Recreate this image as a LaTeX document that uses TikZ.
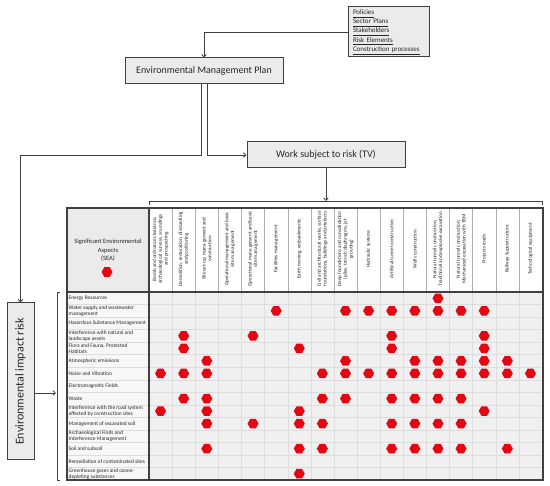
\documentclass[tikz,border=0pt]{standalone}
\usepackage{fontspec}
\setmainfont{Carlito}
\usetikzlibrary{shapes.geometric,arrows.meta}
\definecolor{hexred}{HTML}{E30613}
\definecolor{linegray}{HTML}{404040}
\definecolor{boxfill}{HTML}{EBEBEB}
\definecolor{cellfill}{HTML}{F0F0F0}
\definecolor{gridgray}{HTML}{DDDDDD}
\definecolor{sepgray}{HTML}{B0B0B0}
\definecolor{txtgray}{HTML}{262626}
\newcommand\ulnk[1]{\underline{#1\vphantom{p}}}
\begin{document}
\begin{tikzpicture}[x=1pt,y=-1pt, text=txtgray,
  box/.style={draw=linegray, line width=1pt, fill=boxfill, inner sep=0pt},
  conn/.style={draw=linegray, line width=0.8pt},
  arr/.style={conn, -{Straight Barb[length=2.5pt,width=4.5pt]}},
  hexa/.style={regular polygon, regular polygon sides=6, fill=hexred, draw=none, minimum size=11pt, inner sep=0pt},
  collabel/.style={rotate=90, align=center, font=\fontsize{5.1}{5.7}\selectfont, inner sep=0pt},
  rowlabel/.style={anchor=west, align=left, font=\fontsize{5.4}{5.9}\selectfont, inner sep=0pt},
]
\useasboundingbox (0,0) rectangle (550,486);
\fill[white] (0,0) rectangle (550,486);

% ---- top boxes ----
\node[box, minimum width=81pt, minimum height=50pt, text width=71pt, inner xsep=5pt, align=left,
      font=\fontsize{7}{9.2}\selectfont] (pol) at (388.5,32)
  {\ulnk{Policies}\\\ulnk{Sector Plans}\\\ulnk{Stakeholders}\\\ulnk{Risk Elements}\\\ulnk{Construction processes}};
\node[box, minimum width=158pt, minimum height=26pt, font=\fontsize{10}{12}\selectfont] (emp) at (204,71) {Environmental Management Plan};
\node[box, minimum width=158pt, minimum height=26pt, font=\fontsize{10}{12}\selectfont] (tv) at (326,155) {Work subject to risk (TV)};
\node[box, rotate=90, minimum width=157pt, minimum height=27pt, font=\fontsize{12}{14}\selectfont] (eir) at (20.5,381.5) {Environmental impact risk};

\coordinate (turnL) at (20.5,155);
\coordinate (tbr) at (326,201);
\coordinate (lbr) at (56,393);

\draw[arr] (pol.west) -| (emp.north);
\draw[arr] ([xshift=-3pt]emp.south) |- (turnL) -- (eir.east);
\draw[arr] ([xshift=3pt]emp.south) |- (tv.west);
\draw[arr] (tv.south) -- (tbr);
\draw[arr] (eir.south |- lbr) -- (lbr);

% brackets
\draw[conn] (149,205) -- (149,201) -- (542,201) -- (542,205);
\draw[conn] (60,292) -- (57,292) -- (57,480) -- (60,480);

% ---- table ----
\fill[boxfill] (67,208) rectangle (149,292);
\fill[white] (149,208) rectangle (543,292);
\fill[gray!6] (67,292) rectangle (149,480);
\fill[cellfill] (149,292) rectangle (543,480);
\foreach \j in {1,...,14} {
  \draw[gridgray, line width=0.4pt] (67,{292+\j*12.533}) -- (543,{292+\j*12.533});
}
\foreach \i in {1,...,16} {
  \draw[gridgray, line width=0.4pt] ({149+\i*23.118},292) -- ({149+\i*23.118},480);
  \draw[sepgray, line width=0.4pt] ({149+\i*23.118},208) -- ({149+\i*23.118},292);
}
\draw[linegray, line width=1.3pt] (67,208) rectangle (543,480);
\draw[linegray, line width=1.5pt] (149,208) -- (149,480);
\draw[linegray, line width=1.5pt] (67,292) -- (543,292);

% header legend
\node[align=center, font=\fontsize{6.5}{8.5}\selectfont, inner sep=0pt] (sea) at (108,250.5)
  {Significant Environmental\\Aspects\\(SEA)};
\node[hexa] (seahex) at (107,272) {};

% column labels
\foreach \i/\t in {
 1/{Bomb and ordnance clearance,\\archaeological surveys, soundings\\and prospecting},
 2/{Demolition, restoration, dismantling\\and positioning},
 3/{Site set-up, mana gement and\\construction},
 4/{Operational management and basic\\site mana gement},
 5/{Operational mana gement and basic\\site mana gement},
 6/{Facilities mana gement},
 7/{Earth moving, embankments},
 8/{Civil and architectural works, surface\\foundations, buildings and artefacts},
 9/{Deep foundations and consolidation\\(piles, trench diaphragms, jet\\grouting)},
 10/{Hydraulic systems},
 11/{Artificial tunnel construction},
 12/{Wells construction},
 13/{Natural tunnel construction,\\Traditional and explosive excavation},
 14/{Natural tunnel construction,\\Mechanized excavation with TBM},
 15/{Projects roads},
 16/{Railway Superstructure},
 17/{Technological equipment}} {
  \node[collabel] (col\i) at ({149+(\i-0.5)*23.118},249) {\t};
}

% row labels
\foreach \j/\t in {
 1/{Energy Resources},
 2/{Water supply and wastewater\\management},
 3/{Hazardous Substance Management},
 4/{Interference with natural and\\landscape assets},
 5/{Flora and Fauna, Protected\\Habitats},
 6/{Atmospheric emissions},
 7/{Noise and Vibration},
 8/{Electromagnetic Fields},
 9/{Waste},
 10/{Interference with the road system\\affected by construction sites},
 11/{Management of excavated soil},
 12/{Archaeological Finds and\\Interference Management},
 13/{Soil and subsoil},
 14/{Remediation of contaminated sites},
 15/{Greenhouse gases and ozone-\\depleting substances}} {
  \node[rowlabel] (row\j) at (68.5,{292+(\j-0.5)*12.533}) {\t};
}

% dots
\foreach \r/\cols in {
 1/{13},
 2/{6,9,10,11,12,13,14,15},
 4/{2,5,11,15},
 5/{2,7,11,15},
 6/{3,9,12,13,14,15,16},
 7/{1,2,3,8,9,10,11,12,13,14,15,16,17},
 9/{2,3,8,9,11,12,13,14},
 10/{1,3,7,15},
 11/{3,5,7,8,11,12,13,14},
 13/{3,7,8,11,12,13,14,16},
 15/{7}} {
  \foreach \c in \cols {
    \node[hexa] (d\r-\c) at ({149+(\c-0.5)*23.118},{292+(\r-0.5)*12.533}) {};
  }
}
\end{tikzpicture}
\end{document}
